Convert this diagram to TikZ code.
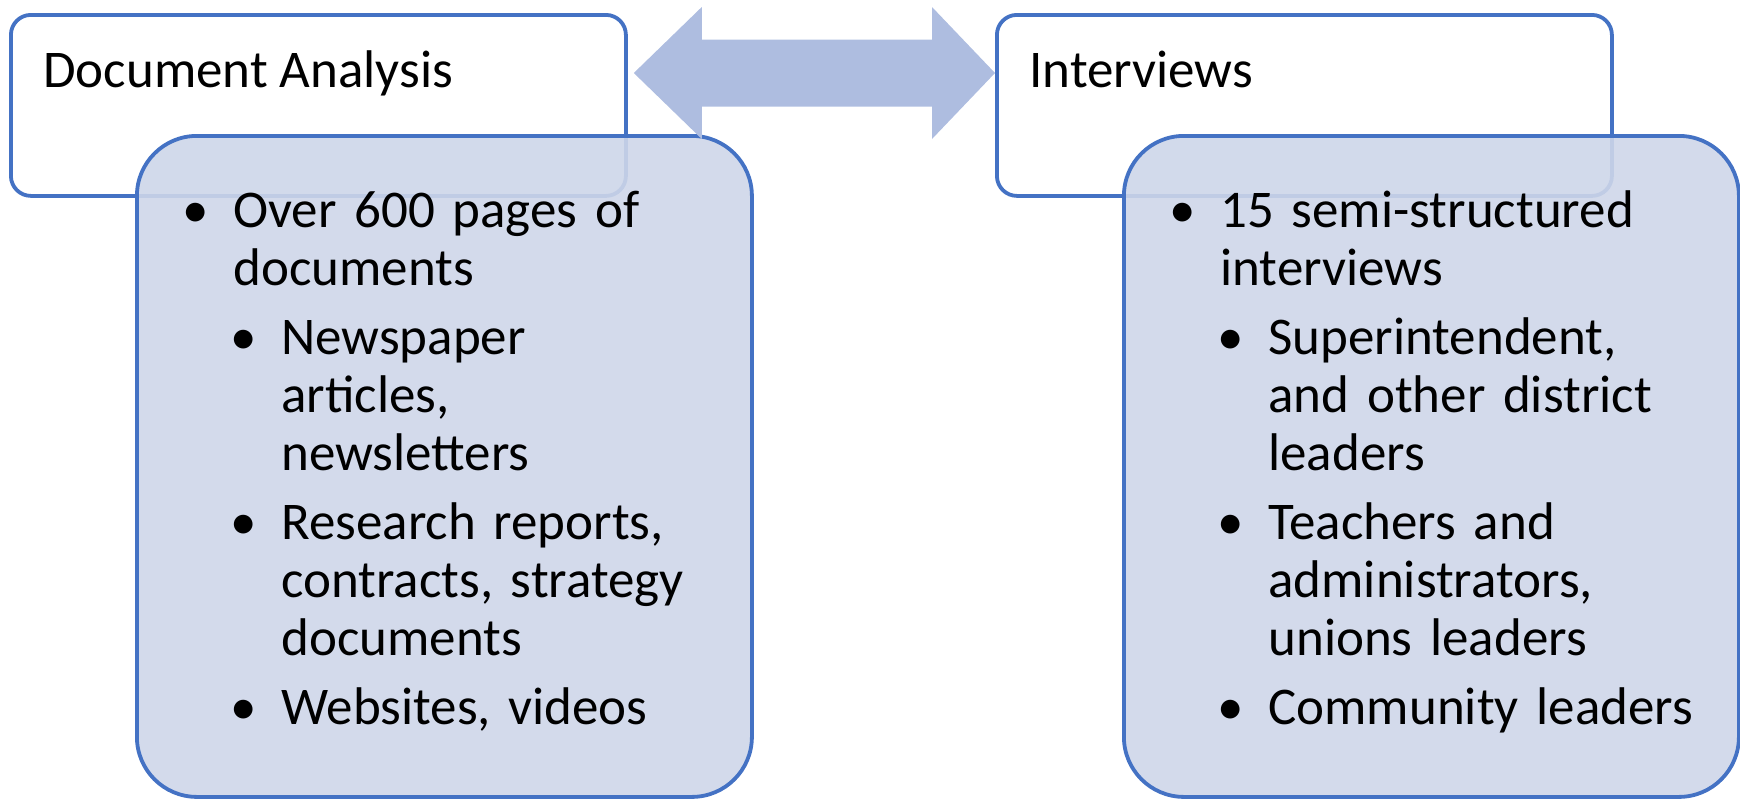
\documentclass[tikz,border=0pt]{standalone}
\usepackage{fontspec}
\setmainfont{Carlito}
\usetikzlibrary{positioning,calc}

\definecolor{boxline}{RGB}{68,114,196}
\definecolor{boxfill}{RGB}{206,214,233}
\definecolor{arrowfill}{RGB}{174,189,224}

\newcommand{\bitem}[2]{\par\leftskip=#1\rightskip=0pt plus 1fil\noindent\llap{\makebox[0pt][c]{\textbullet}\hskip 19pt}#2\par}

\tikzset{
  headbox/.style={draw=boxline, line width=1.9pt, rounded corners=10pt, fill=white,
    minimum width=307.5pt, minimum height=90.5pt, inner sep=0pt, anchor=north west},
  listbox/.style={draw=boxline, line width=1.9pt, rounded corners=30pt, fill=boxfill, fill opacity=0.9,
    minimum width=307.5pt, minimum height=330.5pt, inner sep=0pt, anchor=north west},
  headtext/.style={inner sep=0pt, anchor=base west, font=\fontsize{26.5}{29}\selectfont},
  listtext/.style={inner sep=0pt, anchor=base west, text width=307.5pt, align=left,
    font=\fontsize{26.5}{29}\selectfont\setlength{\parskip}{5.5pt}}
}

\begin{document}
\begin{tikzpicture}[x=0.5pt, y=-0.5pt]
    \useasboundingbox (0,0) rectangle (1740,798);

    % Document analysis
    \node[headbox] (da) at (9,13) {};
    \node[headtext] (datitle) at ($(da.north west)+(34,74)$) {Document Analysis};
    \node[listbox] (dabox) at ($(da.north west)+(126,121)$) {};
    \node[listtext] (dalist) at ($(dabox.north west)+(0,24)$) {%
        \bitem{49pt}{Over 600 pages of\newline documents}
        \bitem{73pt}{Newspaper\newline articles,\newline newsletters}
        \bitem{73pt}{Research reports,\newline contracts, strategy\newline documents}
        \bitem{73pt}{Websites, videos}};

    % Interviews
    \node[headbox] (iv) at (995,13) {};
    \node[headtext] (ivtitle) at ($(iv.north west)+(34,74)$) {Interviews};
    \node[listbox] (ivbox) at ($(iv.north west)+(127,121)$) {};
    \node[listtext] (ivlist) at ($(ivbox.north west)+(0,24)$) {%
        \bitem{49pt}{15 semi-structured\newline interviews}
        \bitem{73pt}{Superintendent,\newline and other district\newline leaders}
        \bitem{73pt}{Teachers and\newline administrators,\newline unions leaders}
        \bitem{73pt}{Community leaders}};

    % Double arrow between both
    \coordinate (tipL) at ($(da.north east)+(6,60)$);
    \coordinate (tipR) at ($(iv.north west)+(0,60)$);
    \fill[arrowfill] (tipL) -- ++(68,-66) -- ++(0,32.5) -- ($(tipR)+(-63,-33.5)$) -- ++(0,-32.5)
        -- (tipR) -- ++(-63,66) -- ++(0,-32.5) -- ($(tipL)+(68,33.5)$) -- ++(0,32.5) -- cycle;
\end{tikzpicture}
\end{document}
